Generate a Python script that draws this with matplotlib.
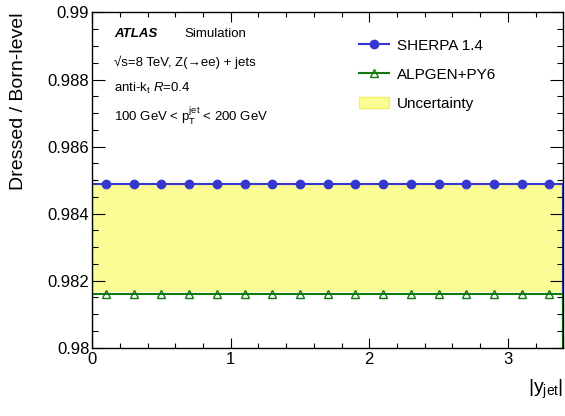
import numpy as np
import matplotlib
matplotlib.use('Agg')
import matplotlib.pyplot as plt
from matplotlib.lines import Line2D
from matplotlib.patches import Patch
from matplotlib.ticker import MultipleLocator, FuncFormatter

plt.rcParams['font.family'] = ['Liberation Sans', 'DejaVu Sans']
plt.rcParams['mathtext.fontset'] = 'custom'
plt.rcParams['mathtext.rm'] = 'Liberation Sans'
plt.rcParams['mathtext.it'] = 'Liberation Sans:italic'
plt.rcParams['mathtext.bf'] = 'Liberation Sans:bold'

# |y_jet| bins
bin_edges = [0.0, 0.2, 0.4, 0.6, 0.8, 1.0, 1.2, 1.4, 1.6, 1.8, 2.0,
             2.2, 2.4, 2.6, 2.8, 3.0, 3.2, 3.4]
sherpa = [0.98488] * 17
alpgen = [0.98161] * 17
band_lo = [0.98165] * 17
band_hi = [0.98486] * 17

edges = np.array(bin_edges)
centers = 0.5 * (edges[1:] + edges[:-1])

blue = '#3535d0'
green = '#0f780f'
yellow = '#fcfc94'

fig = plt.figure(figsize=(5.65, 4.16), dpi=100)
ax = fig.add_axes([0.163, 0.164, 0.834, 0.806])

# uncertainty band
ax.stairs(band_hi, edges, baseline=band_lo, fill=True, color=yellow, lw=0)

# SHERPA
ax.stairs(sherpa, edges, color=blue, lw=1.5)
ax.plot(centers, sherpa, 'o', color=blue, ms=6)

# ALPGEN
ax.stairs(alpgen, edges, color=green, lw=1.5)
ax.plot(centers, alpgen, '^', mfc='none', mec=green, mew=1.0, ms=6)

ax.set_xlim(0, 3.4)
ax.set_ylim(0.98, 0.99)

ax.xaxis.set_major_locator(MultipleLocator(1))
ax.xaxis.set_minor_locator(MultipleLocator(0.2))
ax.yaxis.set_major_locator(MultipleLocator(0.002))
ax.yaxis.set_minor_locator(MultipleLocator(0.0005))
ax.yaxis.set_major_formatter(FuncFormatter(lambda v, p: '%g' % round(v, 4)))
ax.xaxis.set_major_formatter(FuncFormatter(lambda v, p: '%g' % v))

ax.tick_params(which='both', direction='in', top=True, right=True, width=0.8,
               labelsize=12)
ax.tick_params(axis='x', which='major', length=7, pad=3)
ax.tick_params(axis='x', which='minor', length=3.4)
ax.tick_params(axis='y', which='major', length=9.4, pad=2)
ax.tick_params(axis='y', which='minor', length=4.5)
for s in ax.spines.values():
    s.set_linewidth(1.0)

ax.set_ylabel('Dressed / Born-level', fontsize=14, loc='top', labelpad=15)
ax.set_xlabel(r'|y$_{\mathregular{jet}}$|', fontsize=14, loc='right', labelpad=8)

# labels
ax.text(0.046, 0.935, 'ATLAS', transform=ax.transAxes, fontsize=9.5,
        fontweight='bold', style='italic', va='center')
ax.text(0.195, 0.935, 'Simulation', transform=ax.transAxes, fontsize=9.5,
        va='center')
ax.text(0.046, 0.85, '√s=8 TeV, Z(→ee) + jets', transform=ax.transAxes,
        fontsize=9.5, va='center')
ax.text(0.046, 0.773, r'anti-k$_{\mathregular{t}}$ $\mathit{R}$=0.4',
        transform=ax.transAxes, fontsize=9.5, va='center')
ax.text(0.046, 0.69,
        r'100 GeV < p$_{\mathregular{T}}^{\mathregular{jet}}$ < 200 GeV',
        transform=ax.transAxes, fontsize=9.5, va='center')

handles = [
    Line2D([], [], color=blue, lw=1.5, marker='o', ms=6),
    Line2D([], [], color=green, lw=1.5, marker='^', mfc='none', mec=green, ms=6),
    Patch(facecolor=yellow, edgecolor='#f0f060'),
]
fig.legend(handles, ['SHERPA 1.4', 'ALPGEN+PY6', 'Uncertainty'],
           loc='upper left', bbox_to_anchor=(0.635, 0.907), frameon=False,
           fontsize=11, handlelength=2.0, handletextpad=0.5,
           labelspacing=0.98, borderpad=0, borderaxespad=0)

fig.savefig('out.png', dpi=100)
